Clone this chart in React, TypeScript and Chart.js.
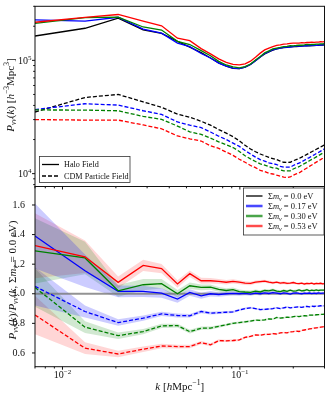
import React, { useEffect, useRef } from 'react';
import { Chart, registerables } from 'chart.js';
Chart.register(...registerables);

const W = 332;
const H = 398;
const FONT = '"Liberation Serif", "DejaVu Serif", serif';

// ---------------- data ----------------
const K = [0.0070, 0.0134, 0.0206, 0.0285, 0.0362, 0.0445, 0.0522, 0.0605, 0.0683, 0.0760, 0.0838, 0.0915, 0.0993, 0.1070, 0.1148, 0.1225, 0.1303, 0.1380, 0.1458, 0.1535, 0.1613, 0.1690, 0.1768, 0.1845, 0.1923, 0.2000, 0.2078, 0.2155, 0.2233, 0.2310, 0.2388, 0.2465, 0.2543, 0.2620, 0.2698, 0.2775, 0.2853, 0.2930, 0.3000];

// P_vv(k) in units of 1e4 h^-3 Mpc^3
const HALO_00 = [16.4, 19.2, 23.6, 18.6, 17.3, 14.7, 13.1, 11.7, 10.5, 9.5, 8.9, 8.5, 8.45, 8.7, 9.2, 9.9, 10.7, 11.4, 11.9, 12.3, 12.6, 12.8, 12.95, 13.05, 13.15, 13.2, 13.25, 13.3, 13.35, 13.4, 13.43, 13.46, 13.5, 13.52, 13.55, 13.58, 13.62, 13.66, 13.7];
const HALO_017 = [22.8, 22.2, 24.0, 18.9, 17.4, 14.2, 13.2, 11.5, 10.5, 9.45, 8.9, 8.53, 8.45, 8.72, 9.18, 9.94, 10.7, 11.47, 11.92, 12.4, 12.65, 12.8, 13.03, 13.09, 13.12, 13.25, 13.33, 13.33, 13.35, 13.45, 13.46, 13.53, 13.51, 13.57, 13.58, 13.66, 13.66, 13.71, 13.75];
const HALO_030 = [21.2, 23.8, 24.1, 19.7, 18.5, 14.7, 13.8, 12.2, 10.97, 9.79, 9.1, 8.74, 8.58, 8.8, 9.29, 10.08, 10.83, 11.65, 12.14, 12.62, 12.83, 12.99, 13.23, 13.26, 13.47, 13.44, 13.52, 13.65, 13.6, 13.69, 13.81, 13.73, 13.82, 13.8, 13.9, 13.88, 13.96, 13.99, 14.04];
const HALO_053 = [21.7, 24.0, 25.4, 22.2, 20.2, 15.7, 14.9, 12.7, 11.4, 10.3, 9.59, 9.21, 9.11, 9.33, 9.84, 10.67, 11.58, 12.37, 12.84, 13.21, 13.58, 13.72, 13.92, 13.96, 14.1, 14.2, 14.18, 14.2, 14.31, 14.28, 14.37, 14.38, 14.47, 14.41, 14.5, 14.5, 14.59, 14.58, 14.63];
const CDM_00 = [3.5, 4.7, 5.0, 4.3, 3.85, 3.35, 3.15, 2.9, 2.68, 2.45, 2.28, 2.12, 1.95, 1.78, 1.65, 1.56, 1.49, 1.44, 1.39, 1.36, 1.33, 1.29, 1.26, 1.255, 1.26, 1.3, 1.33, 1.36, 1.4, 1.44, 1.48, 1.52, 1.56, 1.6, 1.64, 1.68, 1.72, 1.76, 1.8];
const CDM_017 = [3.68, 4.14, 4.03, 3.59, 3.33, 2.86, 2.68, 2.55, 2.33, 2.14, 2.0, 1.86, 1.74, 1.6, 1.49, 1.4, 1.33, 1.29, 1.247, 1.224, 1.204, 1.161, 1.14, 1.142, 1.14, 1.18, 1.21, 1.24, 1.271, 1.313, 1.354, 1.386, 1.429, 1.462, 1.506, 1.539, 1.581, 1.616, 1.654];
const CDM_030 = [3.65, 3.64, 3.59, 3.2, 3.01, 2.63, 2.34, 2.22, 2.06, 1.91, 1.8, 1.7, 1.57, 1.44, 1.35, 1.28, 1.22, 1.19, 1.154, 1.126, 1.117, 1.078, 1.056, 1.057, 1.058, 1.099, 1.128, 1.151, 1.19, 1.227, 1.258, 1.3, 1.335, 1.368, 1.407, 1.443, 1.479, 1.515, 1.552];
const CDM_053 = [3.0, 2.97, 2.97, 2.69, 2.49, 2.15, 2.03, 1.94, 1.76, 1.67, 1.55, 1.45, 1.34, 1.26, 1.18, 1.13, 1.07, 1.045, 1.008, 0.993, 0.968, 0.948, 0.93, 0.924, 0.935, 0.967, 0.995, 1.013, 1.053, 1.087, 1.122, 1.158, 1.193, 1.229, 1.263, 1.297, 1.331, 1.366, 1.4];
const P_UNIT = 1e4;

// ratios to the massless case
const RATIO_REF = 1.0;
const R_HALO_017 = [1.39, 1.156, 1.016, 1.016, 1.005, 0.964, 1.009, 0.986, 1.0, 0.995, 1.0, 1.003, 1.0, 1.002, 0.998, 1.004, 1.0, 1.006, 1.002, 1.008, 1.004, 1.0, 1.006, 1.003, 0.998, 1.004, 1.006, 1.002, 1.0, 1.004, 1.002, 1.005, 1.001, 1.004, 1.002, 1.006, 1.003, 1.004, 1.004];
const R_HALO_030 = [1.29, 1.242, 1.02, 1.061, 1.068, 1.0, 1.054, 1.043, 1.045, 1.03, 1.022, 1.028, 1.015, 1.012, 1.01, 1.018, 1.012, 1.022, 1.02, 1.026, 1.018, 1.015, 1.022, 1.016, 1.024, 1.018, 1.02, 1.026, 1.019, 1.022, 1.028, 1.02, 1.024, 1.021, 1.026, 1.022, 1.025, 1.024, 1.025];
const R_HALO_053 = [1.325, 1.25, 1.077, 1.192, 1.17, 1.066, 1.136, 1.088, 1.088, 1.084, 1.078, 1.084, 1.078, 1.072, 1.07, 1.078, 1.082, 1.085, 1.079, 1.074, 1.078, 1.072, 1.075, 1.07, 1.072, 1.076, 1.07, 1.068, 1.072, 1.066, 1.07, 1.068, 1.072, 1.066, 1.07, 1.068, 1.071, 1.067, 1.068];
const R_CDM_017 = [1.05, 0.88, 0.805, 0.835, 0.864, 0.853, 0.851, 0.88, 0.869, 0.872, 0.875, 0.878, 0.89, 0.9, 0.905, 0.9, 0.893, 0.895, 0.897, 0.9, 0.905, 0.9, 0.905, 0.91, 0.905, 0.908, 0.91, 0.912, 0.908, 0.912, 0.915, 0.912, 0.916, 0.914, 0.918, 0.916, 0.919, 0.918, 0.919];
const R_CDM_030 = [1.043, 0.774, 0.717, 0.744, 0.783, 0.785, 0.744, 0.767, 0.768, 0.78, 0.79, 0.8, 0.805, 0.81, 0.815, 0.822, 0.82, 0.824, 0.83, 0.828, 0.84, 0.836, 0.838, 0.842, 0.84, 0.845, 0.848, 0.846, 0.85, 0.852, 0.85, 0.855, 0.856, 0.855, 0.858, 0.859, 0.86, 0.861, 0.862];
const R_CDM_053 = [0.857, 0.632, 0.593, 0.625, 0.647, 0.643, 0.643, 0.67, 0.655, 0.683, 0.682, 0.684, 0.688, 0.705, 0.712, 0.722, 0.72, 0.726, 0.725, 0.73, 0.728, 0.735, 0.738, 0.736, 0.742, 0.744, 0.748, 0.745, 0.752, 0.755, 0.758, 0.762, 0.765, 0.768, 0.77, 0.772, 0.774, 0.776, 0.778];
// 1-sigma half widths of the ratio bands
const ERR_HALO = [0.22, 0.11, 0.04, 0.038, 0.032, 0.025, 0.022, 0.02, 0.018, 0.016, 0.015, 0.014, 0.013, 0.012, 0.012, 0.011, 0.011, 0.01, 0.01, 0.01, 0.009, 0.009, 0.009, 0.009, 0.008, 0.008, 0.008, 0.008, 0.008, 0.008, 0.007, 0.007, 0.007, 0.007, 0.007, 0.007, 0.007, 0.007, 0.007];
const ERR_CDM = [0.13, 0.04, 0.022, 0.018, 0.015, 0.013, 0.012, 0.011, 0.01, 0.009, 0.008, 0.008, 0.007, 0.007, 0.007, 0.006, 0.006, 0.006, 0.006, 0.006, 0.005, 0.005, 0.005, 0.005, 0.005, 0.005, 0.005, 0.005, 0.005, 0.005, 0.005, 0.005, 0.005, 0.005, 0.005, 0.005, 0.005, 0.005, 0.005];

// ticks
const X_MIN = 0.007, X_MAX = 0.3;
const P_MIN = 7700, P_MAX = 3.0e5;
const R_MIN = 0.507, R_MAX = 1.725;
const X_MAJOR = [0.01, 0.1];
const X_MAJOR_EXP = ['\u22122', '\u22121'];
const X_MINOR = [0.007, 0.008, 0.009, 0.02, 0.03, 0.04, 0.05, 0.06, 0.07, 0.08, 0.09, 0.2, 0.3];
const P_MAJOR = [1e4, 1e5];
const P_MAJOR_EXP = ['4', '5'];
const P_MINOR = [8e3, 9e3, 2e4, 3e4, 4e4, 5e4, 6e4, 7e4, 8e4, 9e4, 2e5, 3e5];
const R_TICKS = [0.6, 0.8, 1.0, 1.2, 1.4, 1.6];

const MASS_LABELS = ['0.0', '0.17', '0.30', '0.53'];
const FIELD_LABELS = ['Halo Field', 'CDM Particle Field'];

const BLACK = '#000000', BLUE = '#0000ff', GREEN = '#008000', RED = '#ff0000';
const COLORS = [BLACK, BLUE, GREEN, RED];
const BAND = ['rgba(0,0,0,0.2)', 'rgba(0,0,255,0.2)', 'rgba(0,128,0,0.18)', 'rgba(255,0,0,0.16)'];

// ---------------- helpers ----------------
type Part = { t: string; it?: boolean; sub?: boolean; sup?: boolean };

function setFont(ctx: CanvasRenderingContext2D, size: number, it: boolean) {
  ctx.font = `${it ? 'italic ' : ''}${size}px ${FONT}`;
}
function partSize(p: Part, size: number) {
  return p.sub || p.sup ? size * 0.7 : size;
}
function richWidth(ctx: CanvasRenderingContext2D, parts: Part[], size: number) {
  let w = 0;
  for (const p of parts) {
    setFont(ctx, partSize(p, size), !!p.it);
    w += ctx.measureText(p.t).width;
  }
  return w;
}
function drawRich(ctx: CanvasRenderingContext2D, parts: Part[], x: number, y: number, size: number, align: 'left' | 'center' | 'right') {
  const w = richWidth(ctx, parts, size);
  let cx = align === 'center' ? x - w / 2 : align === 'right' ? x - w : x;
  ctx.textAlign = 'left';
  ctx.textBaseline = 'alphabetic';
  for (const p of parts) {
    setFont(ctx, partSize(p, size), !!p.it);
    const dy = p.sub ? size * 0.22 : p.sup ? -size * 0.42 : 0;
    ctx.fillText(p.t, cx, y + dy);
    cx += ctx.measureText(p.t).width;
  }
}
function seg(ctx: CanvasRenderingContext2D, x1: number, y1: number, x2: number, y2: number) {
  ctx.beginPath();
  ctx.moveTo(x1, y1);
  ctx.lineTo(x2, y2);
  ctx.stroke();
}

const pts = (arr: number[], scale = 1, err?: number[], sign = 0) =>
  K.map((k, i) => ({ x: k, y: arr[i] * scale + (err ? sign * err[i] : 0) }));

const Y_TITLE_TOP: Part[] = [
  { t: 'P', it: true }, { t: 'vv', it: true, sub: true }, { t: '(' }, { t: 'k', it: true }, { t: ') [' },
  { t: 'h', it: true }, { t: '\u22123', sup: true }, { t: 'Mpc' }, { t: '3', sup: true }, { t: ']' },
];
const Y_TITLE_BOTTOM: Part[] = [
  { t: 'P', it: true }, { t: 'vv', it: true, sub: true }, { t: '(' }, { t: 'k', it: true }, { t: ')/' },
  { t: 'P', it: true }, { t: 'vv', it: true, sub: true }, { t: '(' }, { t: 'k', it: true }, { t: ', \u03A3' },
  { t: 'm', it: true }, { t: '\u03BD', it: true, sub: true }, { t: ' = 0.0 eV)' },
];
const X_TITLE: Part[] = [
  { t: 'k', it: true }, { t: ' [' }, { t: 'h', it: true }, { t: 'Mpc' }, { t: '\u22121', sup: true }, { t: ']' },
];

function makeOverlay(kind: 'top' | 'bottom') {
  return {
    id: 'overlay_' + kind,
    afterDraw(chart: any) {
      const ctx: CanvasRenderingContext2D = chart.ctx;
      const a = chart.chartArea;
      const xs = chart.scales.x;
      const ys = chart.scales.y;
      ctx.save();
      ctx.setLineDash([]);
      ctx.strokeStyle = '#111';
      ctx.lineWidth = 1;
      ctx.strokeRect(a.left, a.top, a.right - a.left, a.bottom - a.top);
      // x ticks
      X_MAJOR.forEach((v) => { const p = xs.getPixelForValue(v); seg(ctx, p, a.bottom, p, a.bottom + 3); });
      X_MINOR.forEach((v) => { const p = xs.getPixelForValue(v); seg(ctx, p, a.bottom, p, a.bottom + 1.8); });
      ctx.fillStyle = '#111';
      if (kind === 'top') {
        P_MAJOR.forEach((v, i) => {
          const p = ys.getPixelForValue(v);
          seg(ctx, a.left - 3, p, a.left, p);
          drawRich(ctx, [{ t: '10' }, { t: P_MAJOR_EXP[i], sup: true }], a.left - 3.5, p + 3.5, 10, 'right');
        });
        P_MINOR.forEach((v) => { const p = ys.getPixelForValue(v); seg(ctx, a.left - 1.8, p, a.left, p); });
        // y title
        ctx.save();
        ctx.translate(13.5, 95);
        ctx.rotate(-Math.PI / 2);
        drawRich(ctx, Y_TITLE_TOP, 0, 0, 11, 'center');
        ctx.restore();
        // legend
        const lx = 39.5, ly = 156.5, lw = 90.5, lh = 26;
        ctx.fillStyle = '#fff';
        ctx.fillRect(lx, ly, lw, lh);
        ctx.strokeStyle = '#333';
        ctx.lineWidth = 0.8;
        ctx.strokeRect(lx, ly, lw, lh);
        ctx.strokeStyle = BLACK;
        ctx.lineWidth = 1.3;
        seg(ctx, 42, 164.5, 59, 164.5);
        ctx.setLineDash([4, 2]);
        seg(ctx, 42, 176, 59.5, 176);
        ctx.setLineDash([]);
        ctx.fillStyle = '#111';
        drawRich(ctx, [{ t: FIELD_LABELS[0] }], 64, 167.3, 8.2, 'left');
        drawRich(ctx, [{ t: FIELD_LABELS[1] }], 64, 178.8, 8.2, 'left');
      } else {
        R_TICKS.forEach((v) => { const p = ys.getPixelForValue(v); seg(ctx, a.left - 3, p, a.left, p); });
        X_MAJOR.forEach((v, i) => {
          const p = xs.getPixelForValue(v);
          drawRich(ctx, [{ t: '10' }, { t: X_MAJOR_EXP[i], sup: true }], p, a.bottom + 11, 10, 'center');
        });
        drawRich(ctx, X_TITLE, (a.left + a.right) / 2, 390, 11, 'center');
        ctx.save();
        ctx.translate(15.5, 280);
        ctx.rotate(-Math.PI / 2);
        drawRich(ctx, Y_TITLE_BOTTOM, 0, 0, 11, 'center');
        ctx.restore();
        // legend
        const lx = 243.5, ly = 188, lw = 80.5, lh = 47;
        ctx.fillStyle = '#fff';
        ctx.fillRect(lx, ly, lw, lh);
        ctx.strokeStyle = '#333';
        ctx.lineWidth = 0.8;
        ctx.strokeRect(lx, ly, lw, lh);
        MASS_LABELS.forEach((m, i) => {
          const y = 196 + i * 10;
          if (i > 0) {
            ctx.fillStyle = BAND[i];
            ctx.fillRect(246, y - 2, 16.5, 4);
          }
          ctx.strokeStyle = COLORS[i];
          ctx.lineWidth = 1.3;
          seg(ctx, 246, y, 262.5, y);
          ctx.fillStyle = '#111';
          drawRich(ctx, [{ t: '\u03A3' }, { t: 'm', it: true }, { t: '\u03BD', it: true, sub: true }, { t: ' = ' + m + ' eV' }], 268, y + 3, 8.5, 'left');
        });
      }
      ctx.restore();
    },
  };
}

const line = (data: any[], color: string, order: number, dashed = false) => ({
  data,
  borderColor: color,
  backgroundColor: color,
  borderWidth: 1.3,
  borderDash: dashed ? [4, 2] : [],
  pointRadius: 0,
  tension: 0,
  fill: false,
  order,
});
const band = (upper: any[], lower: any[], color: string) => [
  { data: upper, borderColor: 'transparent', borderWidth: 0, pointRadius: 0, backgroundColor: color, fill: '+1', order: 30 },
  { data: lower, borderColor: 'transparent', borderWidth: 0, pointRadius: 0, backgroundColor: color, fill: false, order: 30 },
];

const AREA_LEFT = 35, AREA_RIGHT = 324.5, TOP_T = 6.3, TOP_B = 186.5, BOT_B = 366.7;

function baseOptions(): any {
  return {
    responsive: false,
    maintainAspectRatio: false,
    animation: false,
    events: [],
    plugins: {
      legend: { display: false },
      tooltip: { enabled: false },
      filler: { propagate: false, drawTime: 'beforeDatasetsDraw' },
    },
  };
}

export default function App() {
  const topRef = useRef<HTMLCanvasElement>(null);
  const botRef = useRef<HTMLCanvasElement>(null);

  useEffect(() => {
    document.body.style.margin = '0';
    const halo = [HALO_00, HALO_017, HALO_030, HALO_053];
    const cdm = [CDM_00, CDM_017, CDM_030, CDM_053];
    const topDatasets: any[] = [];
    halo.forEach((arr, i) => topDatasets.push(line(pts(arr, P_UNIT), COLORS[i], 4 - i)));
    cdm.forEach((arr, i) => topDatasets.push(line(pts(arr, P_UNIT), COLORS[i], 8 - i, true)));

    const topOpts = baseOptions();
    topOpts.layout = { padding: { left: 0, right: W - AREA_RIGHT, top: TOP_T, bottom: H - TOP_B } };
    topOpts.scales = {
      x: {
        type: 'logarithmic', min: X_MIN, max: X_MAX,
        ticks: { display: false }, grid: { display: false }, border: { display: false },
        afterFit: (s: any) => { s.height = 0; },
      },
      y: {
        type: 'logarithmic', min: P_MIN, max: P_MAX,
        ticks: { display: false }, grid: { display: false }, border: { display: false },
        afterFit: (s: any) => { s.width = AREA_LEFT; },
      },
    };
    const c1 = new Chart(topRef.current!, {
      type: 'line',
      data: { datasets: topDatasets },
      options: topOpts,
      plugins: [makeOverlay('top')],
    } as any);

    const rHalo = [R_HALO_017, R_HALO_030, R_HALO_053];
    const rCdm = [R_CDM_017, R_CDM_030, R_CDM_053];
    const botDatasets: any[] = [];
    rHalo.forEach((arr, i) => botDatasets.push(line(pts(arr), COLORS[i + 1], 3 - i)));
    rCdm.forEach((arr, i) => botDatasets.push(line(pts(arr), COLORS[i + 1], 6 - i, true)));
    botDatasets.push({
      data: K.map((k) => ({ x: k, y: RATIO_REF })),
      borderColor: 'rgba(120,120,120,0.8)', borderWidth: 2, pointRadius: 0, fill: false, order: 10,
    });
    rHalo.forEach((arr, i) => botDatasets.push(...band(pts(arr, 1, ERR_HALO, 1), pts(arr, 1, ERR_HALO, -1), BAND[i + 1])));
    rCdm.forEach((arr, i) => botDatasets.push(...band(pts(arr, 1, ERR_CDM, 1), pts(arr, 1, ERR_CDM, -1), BAND[i + 1])));

    const botOpts = baseOptions();
    botOpts.layout = { padding: { left: 0, right: W - AREA_RIGHT, top: TOP_B, bottom: 0 } };
    botOpts.scales = {
      x: {
        type: 'logarithmic', min: X_MIN, max: X_MAX,
        ticks: { display: false }, grid: { display: false }, border: { display: false },
        afterFit: (s: any) => { s.height = H - BOT_B; },
      },
      y: {
        type: 'linear', min: R_MIN, max: R_MAX,
        grid: { display: false }, border: { display: false },
        afterBuildTicks: (s: any) => { s.ticks = R_TICKS.map((v) => ({ value: v })); },
        ticks: {
          autoSkip: false,
          padding: 2,
          color: '#111',
          font: { family: FONT, size: 10 },
          callback: (v: any) => Number(v).toFixed(1),
        },
        afterFit: (s: any) => { s.width = AREA_LEFT; },
      },
    };
    const c2 = new Chart(botRef.current!, {
      type: 'line',
      data: { datasets: botDatasets },
      options: botOpts,
      plugins: [makeOverlay('bottom')],
    } as any);

    return () => {
      c1.destroy();
      c2.destroy();
    };
  }, []);

  return (
    <div style={{ position: 'fixed', left: 0, top: 0, width: W, height: H, background: '#fff' }}>
      <canvas ref={topRef} width={W} height={H} style={{ position: 'absolute', left: 0, top: 0, width: W, height: H }} />
      <canvas ref={botRef} width={W} height={H} style={{ position: 'absolute', left: 0, top: 0, width: W, height: H }} />
    </div>
  );
}
